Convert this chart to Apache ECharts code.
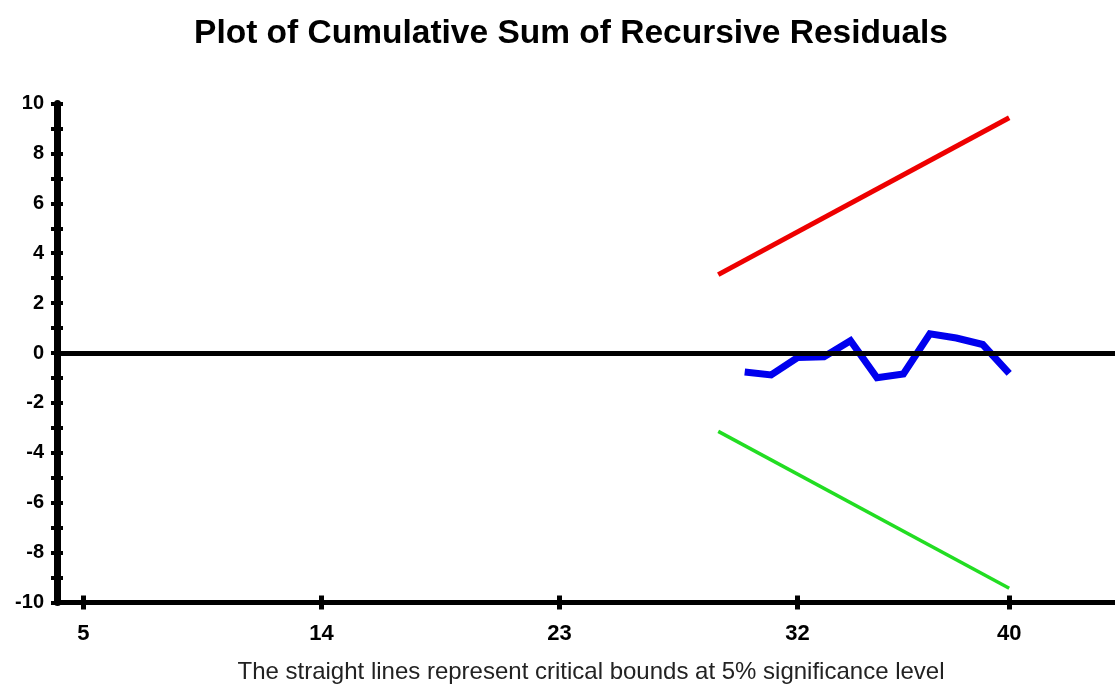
<!DOCTYPE html>
<html><head><meta charset="utf-8">
<script src="https://cdn.jsdelivr.net/npm/echarts@6/dist/echarts.min.js"></script>
<style>html,body{margin:0;padding:0;background:#fff}#c{width:1115px;height:688px}</style>
</head><body><div id="c"></div>
<script>
const obsX = [30,31,32,33,34,35,36,37,38,39,40];
const cusum = [-0.76,-0.88,-0.18,-0.15,0.49,-0.99,-0.84,0.77,0.6,0.34,-0.82];
const boundX = [29,40];
const upperBound = [3.14,9.43];
const lowerBound = [-3.14,-9.43];
const xTickValues = [5,14,23,32,40];
const titleText = 'Plot of Cumulative Sum of Recursive Residuals';
const noteText = 'The straight lines represent critical bounds at 5% significance level';

const font = '"Liberation Sans", Arial, sans-serif';
const pairs = (xs, ys) => xs.map((x,i)=>[x, ys[i]]);
const chart = echarts.init(document.getElementById('c'), null, {renderer:'canvas'});
const yBase = {type:'value', min:-10, max:10, interval:1, splitLine:{show:false}, position:'left'};
const xBase = {type:'value', min:4, max:44, splitLine:{show:false}, position:'bottom'};
chart.setOption({
  animation:false,
  backgroundColor:'#fff',
  title:[
    {text:titleText, left:566, top:12, textAlign:'center',
     textStyle:{fontFamily:font, fontSize:33.5, fontWeight:'bold', color:'#000'}},
    {text:noteText, left:586, top:655, textAlign:'center',
     textStyle:{fontFamily:font, fontSize:24, fontWeight:'normal', color:'#222'}}
  ],
  grid:{left:57, right:-4, top:103.5, bottom:85.5, containLabel:false},
  xAxis:[
    Object.assign({}, xBase, {
      axisLine:{show:true, onZero:false, lineStyle:{color:'#000', width:5}},
      axisTick:{show:true, customValues:xTickValues, length:7, lineStyle:{color:'#000', width:5}},
      axisLabel:{customValues:xTickValues, margin:20, fontFamily:font, fontSize:22, fontWeight:'bold', color:'#000'}
    }),
    Object.assign({}, xBase, {
      axisLine:{show:false, onZero:false},
      axisTick:{show:true, inside:true, customValues:xTickValues, length:7, lineStyle:{color:'#000', width:5}},
      axisLabel:{show:false}
    })
  ],
  yAxis:[
    Object.assign({}, yBase, {
      axisLine:{show:true, onZero:false, lineStyle:{color:'#000', width:7}},
      axisTick:{show:true, length:6, lineStyle:{color:'#000', width:4}},
      axisLabel:{margin:13, fontFamily:font, fontSize:20, fontWeight:'bold', color:'#000',
        formatter:v => (Math.round(v) % 2 === 0 ? String(v) : '')}
    }),
    Object.assign({}, yBase, {
      axisLine:{show:false, onZero:false},
      axisTick:{show:true, inside:true, length:6, lineStyle:{color:'#000', width:4}},
      axisLabel:{show:false}
    })
  ],
  series:[
    {type:'line', data:pairs(boundX, upperBound), showSymbol:false, symbol:'none',
     lineStyle:{color:'#ee0000', width:5}, z:3},
    {type:'line', data:pairs(boundX, lowerBound), showSymbol:false, symbol:'none',
     lineStyle:{color:'#22dd22', width:3.5}, z:3},
    {type:'line', data:pairs(obsX, cusum), showSymbol:false, symbol:'none',
     lineStyle:{color:'#0000ee', width:7, join:'miter'}, z:4,
     markLine:{silent:true, symbol:['none','none'], label:{show:false},
       lineStyle:{color:'#000', width:5, type:'solid'}, data:[{yAxis:0}], z:5}}
  ]
});
</script></body></html>
